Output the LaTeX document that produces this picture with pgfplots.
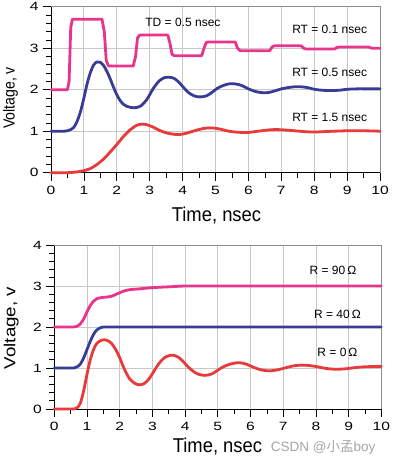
\documentclass[border=0pt]{standalone}
\usepackage{pgfplots}
\pgfplotsset{compat=1.18}
\usepackage{fontspec}
\setmainfont{Liberation Sans}
\newfontfamily\tickfont[FakeStretch=1.3]{Liberation Sans}
\newfontfamily\ylabA[FakeStretch=0.88]{Liberation Sans}
\newfontfamily\ylabB[FakeStretch=1.17]{Liberation Sans}
\newfontfamily\xlab[FakeStretch=0.92]{Liberation Sans}
\newfontfamily\cjk{Noto Sans CJK SC}
\definecolor{cpink}{RGB}{233,52,140}
\definecolor{cblue}{RGB}{55,60,150}
\definecolor{cred}{RGB}{232,58,58}
\definecolor{gridgray}{RGB}{200,200,200}
\definecolor{boxgray}{RGB}{140,140,140}
\definecolor{wm}{RGB}{165,165,165}
\pgfplotsset{myaxis/.style={
  scale only axis, xmin=0, xmax=10, ymin=0, ymax=4,
  axis x line*=bottom, axis y line*=left,
  axis line style={black, line width=0.9pt, -},
  xtick={0,...,10}, ytick={0,...,4},
  minor x tick num=1, minor y tick num=4,
  tick align=outside, major tick length=8pt, minor tick length=5pt,
  tick style={black, line width=0.7pt},
  grid=major, major grid style={color=gridgray, line width=0.8pt},
  /pgf/number format/assume math mode=true,
  tick label style={font=\tickfont\fontsize{12}{14}\selectfont},
  xticklabel style={yshift=-2pt}, yticklabel style={xshift=-1pt},
  every axis plot/.append style={line width=2.8pt, line join=round, line cap=round},
  clip=false,
}}
\begin{document}
\begin{tikzpicture}
\useasboundingbox (-51pt,-290.3pt) rectangle (341pt,172.7pt);
% ---------- top ----------
\begin{axis}[myaxis, at={(0pt,0pt)}, anchor=south west,
  width=329pt, height=166pt,
  xlabel={\xlab\fontsize{20}{22}\selectfont Time, nsec},
  xlabel style={at={(axis description cs:0.503,-0.295)}, anchor=base},
  ylabel={\ylabA\fontsize{16}{18}\selectfont Voltage, v},
  ylabel style={at={(axis description cs:-0.123,0.45)}, anchor=center},
]
\draw[boxgray, line width=0.8pt] (rel axis cs:0,1) -- (rel axis cs:1,1) -- (rel axis cs:1,0);
\addplot[cpink] coordinates {(0,2)(0.5,2)(0.55,2.2)(0.6,3.5)(0.65,3.7)(1.55,3.7)(1.62,3.4)(1.68,2.7)(1.75,2.57)(2.5,2.57)(2.57,2.8)(2.63,3.25)(2.7,3.32)(3.55,3.32)(3.62,3.1)(3.68,2.85)(3.75,2.82)(4.58,2.82)(4.65,3.0)(4.72,3.14)(4.8,3.15)(5.6,3.15)(5.67,3.0)(5.75,2.94)(6.65,2.94)(6.72,3.03)(6.8,3.06)(7.6,3.06)(7.68,3.0)(7.75,2.98)(8.62,2.98)(8.7,3.02)(8.78,3.03)(9.65,3.03)(9.75,3.0)(10,3.0)};
\addplot[cblue, smooth] coordinates {(0,1)(0.2,1)(0.4,1)(0.5,1.01)(0.6,1.04)(0.7,1.1)(0.8,1.25)(0.9,1.48)(1.0,1.8)(1.1,2.15)(1.2,2.42)(1.3,2.6)(1.4,2.67)(1.5,2.66)(1.6,2.58)(1.7,2.44)(1.8,2.26)(1.9,2.06)(2.0,1.88)(2.1,1.74)(2.2,1.65)(2.3,1.6)(2.45,1.57)(2.6,1.57)(2.75,1.62)(2.9,1.75)(3.0,1.88)(3.1,2.02)(3.2,2.13)(3.3,2.22)(3.45,2.29)(3.6,2.3)(3.75,2.27)(3.9,2.17)(4.0,2.08)(4.15,1.95)(4.3,1.87)(4.45,1.83)(4.6,1.83)(4.75,1.86)(4.9,1.94)(5.05,2.03)(5.2,2.09)(5.4,2.14)(5.6,2.14)(5.8,2.1)(6.0,2.02)(6.2,1.96)(6.4,1.93)(6.6,1.93)(6.8,1.97)(7.0,2.02)(7.2,2.05)(7.4,2.07)(7.6,2.07)(7.8,2.05)(8.0,2.01)(8.2,1.99)(8.4,1.98)(8.6,1.98)(8.8,1.99)(9.0,2.01)(9.3,2.02)(9.6,2.02)(10,2.02)};
\addplot[cred, smooth] coordinates {(0,0)(0.25,0)(0.5,0)(0.8,0.02)(1.0,0.05)(1.2,0.1)(1.4,0.2)(1.6,0.33)(1.8,0.5)(2.0,0.68)(2.2,0.87)(2.4,1.03)(2.6,1.14)(2.75,1.17)(2.9,1.16)(3.1,1.1)(3.3,1.02)(3.5,0.96)(3.7,0.93)(3.85,0.92)(4.0,0.93)(4.2,0.97)(4.4,1.02)(4.6,1.06)(4.8,1.08)(5.0,1.07)(5.2,1.04)(5.4,1.0)(5.6,0.98)(5.8,0.97)(6.0,0.97)(6.2,0.99)(6.4,1.01)(6.6,1.03)(6.85,1.04)(7.1,1.03)(7.4,1.01)(7.7,0.99)(8.0,0.98)(8.3,0.99)(8.6,1.0)(9.0,1.01)(9.5,1.01)(10,1.0)};
\node[font=\fontsize{12}{14}\selectfont] at (axis cs:4.01,3.63) {TD = 0.5 nsec};
\node[font=\fontsize{12}{14}\selectfont] at (axis cs:8.47,3.46) {RT = 0.1 nsec};
\node[font=\fontsize{12}{14}\selectfont] at (axis cs:8.47,2.41) {RT = 0.5 nsec};
\node[font=\fontsize{12}{14}\selectfont] at (axis cs:8.47,1.33) {RT = 1.5 nsec};
\end{axis}
% ---------- bottom ----------
\begin{axis}[myaxis, at={(3.3pt,-236.3pt)}, anchor=south west,
  width=327pt, height=164pt,
  xlabel={\xlab\fontsize{20}{22}\selectfont Time, nsec},
  xlabel style={at={(axis description cs:0.499,-0.268)}, anchor=base},
  ylabel={\ylabB\fontsize{16}{18}\selectfont Voltage, v},
  ylabel style={at={(axis description cs:-0.132,0.494)}, anchor=center},
]
\draw[boxgray, line width=0.8pt] (rel axis cs:0,1) -- (rel axis cs:1,1) -- (rel axis cs:1,0);
\addplot[cpink, smooth] coordinates {(0,2)(0.3,2)(0.6,2)(0.7,2.02)(0.8,2.08)(0.9,2.2)(1.0,2.37)(1.1,2.52)(1.2,2.63)(1.3,2.69)(1.45,2.72)(1.6,2.73)(1.75,2.75)(1.9,2.8)(2.1,2.87)(2.3,2.91)(2.6,2.93)(3.0,2.96)(3.5,2.98)(4.0,3.0)(4.5,3.0)(5.0,3.0)(7.5,3.0)(10,3.0)};
\addplot[cblue, smooth] coordinates {(0,1)(0.3,1)(0.6,1)(0.7,1.03)(0.8,1.1)(0.9,1.25)(1.0,1.45)(1.1,1.65)(1.2,1.82)(1.3,1.93)(1.4,1.98)(1.5,2.0)(1.6,2.0)(1.7,2.0)(2.0,2.0)(3.0,2.0)(5.0,2.0)(7.5,2.0)(10,2.0)};
\addplot[cred, smooth] coordinates {(0,0)(0.3,0)(0.6,0)(0.7,0.03)(0.8,0.15)(0.9,0.45)(1.0,0.85)(1.1,1.2)(1.2,1.45)(1.3,1.6)(1.45,1.68)(1.6,1.68)(1.75,1.6)(1.9,1.42)(2.0,1.25)(2.1,1.05)(2.2,0.88)(2.3,0.74)(2.45,0.63)(2.6,0.59)(2.75,0.62)(2.9,0.74)(3.0,0.86)(3.1,0.99)(3.2,1.11)(3.35,1.24)(3.5,1.3)(3.65,1.31)(3.8,1.26)(3.95,1.15)(4.1,1.02)(4.25,0.92)(4.4,0.85)(4.6,0.82)(4.8,0.85)(4.95,0.92)(5.1,1.0)(5.25,1.06)(5.45,1.11)(5.65,1.13)(5.85,1.1)(6.0,1.05)(6.15,1.0)(6.35,0.95)(6.6,0.93)(6.85,0.96)(7.05,1.0)(7.3,1.05)(7.55,1.07)(7.8,1.06)(8.05,1.03)(8.3,0.99)(8.6,0.97)(8.9,0.98)(9.2,1.01)(9.5,1.03)(10,1.04)};
\node[font=\fontsize{12}{14}\selectfont] at (axis cs:8.52,3.37) {R = 90\,Ω};
\node[font=\fontsize{12}{14}\selectfont] at (axis cs:8.66,2.31) {R = 40\,Ω};
\node[font=\fontsize{12}{14}\selectfont] at (axis cs:8.66,1.38) {R = 0\,Ω};
\node[font=\fontsize{13.5}{15}\selectfont, text=wm] at (axis cs:8.22,-0.93) {CSDN @{\cjk 小孟}boy};
\end{axis}
\end{tikzpicture}
\end{document}
